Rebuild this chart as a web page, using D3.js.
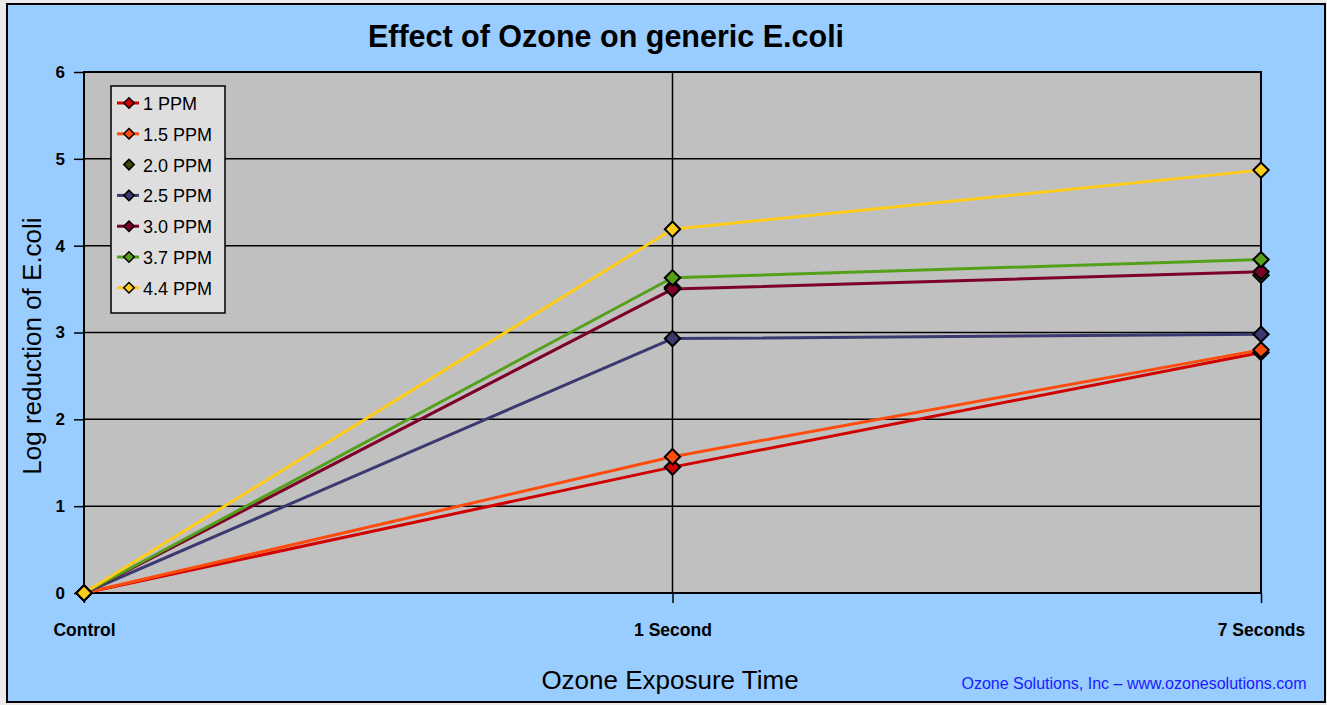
<!DOCTYPE html>
<html>
<head>
<meta charset="utf-8">
<script src="https://cdn.jsdelivr.net/npm/d3@7"></script>
<style>
  html, body { margin: 0; padding: 0; background: #ebebeb; }
  text { font-family: Arial, "Liberation Sans", sans-serif; }
</style>
</head>
<body>
<div id="vis"></div>
<script>
// chart data
var categories = ['Control', '1 Second', '7 Seconds'];
var seriesNames = ['1 PPM', '1.5 PPM', '2.0 PPM', '2.5 PPM', '3.0 PPM', '3.7 PPM', '4.4 PPM'];
var ppm1   = [0, 1.45, 2.77];
var ppm1_5 = [0, 1.57, 2.80];
var ppm2_0 = [0, 3.52, 3.66];
var ppm2_5 = [0, 2.93, 2.98];
var ppm3_0 = [0, 3.50, 3.70];
var ppm3_7 = [0, 3.63, 3.84];
var ppm4_4 = [0, 4.19, 4.87];
var yTicks = [0, 1, 2, 3, 4, 5, 6];

var colors = ['#d00000', '#ff4c0c', '#3a4a0e', '#3a3a70', '#7c0028', '#55a01a', '#ffcc1a'];
// 2.0 PPM is drawn as markers only in the original
var showLine = [true, true, false, true, true, true, true];

var series = [ppm1, ppm1_5, ppm2_0, ppm2_5, ppm3_0, ppm3_7, ppm4_4].map(function(v, i) {
  return { name: seriesNames[i], values: v, color: colors[i], line: showLine[i] };
});

var W = 1327, H = 705;
var margin = { top: 72, left: 84, right: 66, bottom: 112 };

var svg = d3.select('#vis').append('svg')
  .attr('width', W)
  .attr('height', H);

// outer blue panel
svg.append('rect')
  .attr('x', 7).attr('y', 4)
  .attr('width', 1318).attr('height', 698)
  .attr('fill', '#99ccff')
  .attr('stroke', '#000')
  .attr('stroke-width', 2);

var x = d3.scalePoint()
  .domain(categories)
  .range([margin.left, W - margin.right]);

var y = d3.scaleLinear()
  .domain([0, 6])
  .range([H - margin.bottom, margin.top]);

// plot area
svg.append('rect')
  .attr('x', x.range()[0]).attr('y', y(6))
  .attr('width', x.range()[1] - x.range()[0])
  .attr('height', y(0) - y(6))
  .attr('fill', '#c0c0c0');

// horizontal grid
svg.append('g').selectAll('line')
  .data(yTicks)
  .join('line')
  .attr('x1', x.range()[0]).attr('x2', x.range()[1])
  .attr('y1', function(d) { return y(d); })
  .attr('y2', function(d) { return y(d); })
  .attr('stroke', '#000')
  .attr('stroke-width', 1.5);

// vertical grid at the middle category
svg.append('line')
  .attr('x1', x('1 Second')).attr('x2', x('1 Second'))
  .attr('y1', y(6)).attr('y2', y(0))
  .attr('stroke', '#000')
  .attr('stroke-width', 1.5);

// plot frame
svg.append('rect')
  .attr('x', x.range()[0]).attr('y', y(6))
  .attr('width', x.range()[1] - x.range()[0])
  .attr('height', y(0) - y(6))
  .attr('fill', 'none')
  .attr('stroke', '#000')
  .attr('stroke-width', 2);

// y axis
var yAxis = svg.append('g')
  .attr('transform', 'translate(' + x.range()[0] + ',0)')
  .call(d3.axisLeft(y).tickValues(yTicks).tickSize(10).tickPadding(9).tickFormat(d3.format('d')));
yAxis.select('.domain').remove();
yAxis.selectAll('line').attr('stroke', '#000').attr('stroke-width', 1.5);
yAxis.selectAll('text')
  .attr('font-size', 17).attr('font-weight', 'bold').attr('fill', '#000')
  .attr('font-family', 'Arial, "Liberation Sans", sans-serif');

// x axis
var xAxis = svg.append('g')
  .attr('transform', 'translate(0,' + y(0) + ')')
  .call(d3.axisBottom(x).tickSize(10).tickPadding(21));
xAxis.select('.domain').remove();
xAxis.selectAll('line').attr('stroke', '#000').attr('stroke-width', 1.5);
xAxis.selectAll('text')
  .attr('font-size', 17.5).attr('font-weight', 'bold').attr('fill', '#000')
  .attr('font-family', 'Arial, "Liberation Sans", sans-serif');

// lines
var line = d3.line()
  .x(function(d, i) { return x(categories[i]); })
  .y(function(d) { return y(d); });

svg.append('g').selectAll('path')
  .data(series.filter(function(s) { return s.line; }))
  .join('path')
  .attr('d', function(s) { return line(s.values); })
  .attr('fill', 'none')
  .attr('stroke', function(s) { return s.color; })
  .attr('stroke-width', 3)
  .attr('stroke-linejoin', 'round');

// diamond markers
var diamond = d3.symbol().type(d3.symbolDiamond2).size(150);

series.forEach(function(s) {
  svg.append('g').selectAll('path')
    .data(s.values)
    .join('path')
    .attr('d', diamond)
    .attr('transform', function(d, i) { return 'translate(' + x(categories[i]) + ',' + y(d) + ')'; })
    .attr('fill', s.color)
    .attr('stroke', '#000')
    .attr('stroke-width', 2);
});

// legend
var legend = svg.append('g').attr('transform', 'translate(111,86)');
legend.append('rect')
  .attr('width', 114).attr('height', 227)
  .attr('fill', '#dedede')
  .attr('stroke', '#000')
  .attr('stroke-width', 1.5);

var items = legend.selectAll('g.item')
  .data(series)
  .join('g')
  .attr('class', 'item')
  .attr('transform', function(d, i) { return 'translate(0,' + (17 + i * 30.8) + ')'; });

items.filter(function(d) { return d.line; })
  .append('line')
  .attr('x1', 6).attr('x2', 28)
  .attr('stroke', function(d) { return d.color; })
  .attr('stroke-width', 3);

items.append('path')
  .attr('d', d3.symbol().type(d3.symbolDiamond2).size(70))
  .attr('transform', 'translate(18,0)')
  .attr('fill', function(d) { return d.color; })
  .attr('stroke', '#000')
  .attr('stroke-width', 1.5);

items.append('text')
  .attr('x', 32).attr('y', 7)
  .attr('font-size', 18)
  .attr('fill', '#000')
  .text(function(d) { return d.name; });

// titles
svg.append('text')
  .attr('x', 606).attr('y', 47)
  .attr('text-anchor', 'middle')
  .attr('font-size', 30.5).attr('font-weight', 'bold')
  .text('Effect of Ozone on generic E.coli');

svg.append('text')
  .attr('transform', 'translate(41,346) rotate(-90)')
  .attr('text-anchor', 'middle')
  .attr('font-size', 26)
  .text('Log reduction of E.coli');

svg.append('text')
  .attr('x', 670).attr('y', 689)
  .attr('text-anchor', 'middle')
  .attr('font-size', 26)
  .text('Ozone Exposure Time');

svg.append('text')
  .attr('x', 1134).attr('y', 689)
  .attr('text-anchor', 'middle')
  .attr('font-size', 16)
  .attr('fill', '#1a1aff')
  .text('Ozone Solutions, Inc \u2013 www.ozonesolutions.com');
</script>
</body>
</html>
